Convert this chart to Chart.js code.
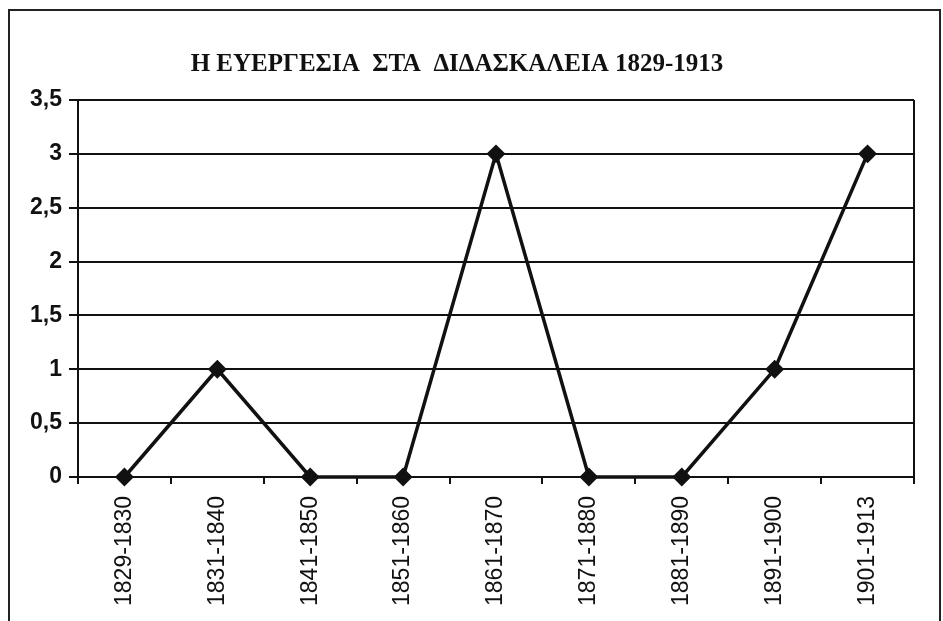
<!DOCTYPE html>
<html>
<head>
<meta charset="utf-8">
<script src="https://cdn.jsdelivr.net/npm/chart.js@4"></script>
<style>
  html, body { margin: 0; padding: 0; background: #fff; }
  #wrap { width: 943px; height: 621px; position: relative; }
</style>
</head>
<body>
<div id="wrap"><canvas id="chart"></canvas></div>
<script>
// data
const periods = ["1829-1830", "1831-1840", "1841-1850", "1851-1860", "1861-1870",
                 "1871-1880", "1881-1890", "1891-1900", "1901-1913"];
const counts = [0, 1, 0, 0, 3, 0, 0, 1, 3];
const yTicks = [0, 0.5, 1, 1.5, 2, 2.5, 3, 3.5];
const titleText = "Η ΕΥΕΡΓΕΣΙΑ  ΣΤΑ  ΔΙΔΑΣΚΑΛΕΙΑ 1829-1913";

// frame around the whole figure + right edge of plot box
const framePlugin = {
  id: "frame",
  beforeDraw(chart) {
    const c = chart.ctx;
    c.save();
    c.fillStyle = "#fff";
    c.fillRect(0, 0, chart.width, chart.height);
    c.strokeStyle = "#222";
    c.lineWidth = 2;
    c.strokeRect(9, 10, 931, 640);
    c.restore();
  },
  afterDraw(chart) {
    const a = chart.chartArea, c = chart.ctx;
    c.save();
    c.strokeStyle = "#111";
    c.lineWidth = 2;
    c.beginPath();
    c.moveTo(a.right, a.top);
    c.lineTo(a.right, a.bottom + 7);
    c.stroke();
    c.restore();
  }
};

new Chart(document.getElementById("chart"), {
  type: "line",
  data: {
    labels: periods,
    datasets: [{
      data: counts,
      borderColor: "#111",
      borderWidth: 3.5,
      tension: 0,
      pointStyle: "rectRot",
      pointRadius: 7,
      pointBackgroundColor: "#111",
      pointBorderColor: "#111",
      clip: false
    }]
  },
  options: {
    responsive: true,
    maintainAspectRatio: false,
    animation: false,
    layout: { padding: { left: 0, right: 29, top: 0, bottom: 0 } },
    plugins: {
      legend: { display: false },
      tooltip: { enabled: false },
      title: {
        display: true,
        text: titleText,
        color: "#111",
        font: { family: "'Liberation Serif', 'Times New Roman', serif", size: 25, weight: "bold" },
        padding: { top: 50, bottom: 20 }
      }
    },
    scales: {
      x: {
        offset: true,
        grid: { offset: true, drawOnChartArea: false, drawTicks: true, tickLength: 7, color: "#111", lineWidth: 2 },
        border: { color: "#111", width: 2 },
        ticks: {
          color: "#111",
          minRotation: 90,
          maxRotation: 90,
          padding: 12,
          font: { family: "'Liberation Sans', Arial, sans-serif", size: 23 }
        },
        afterFit(scale) { scale.height = 144; }
      },
      y: {
        min: 0,
        max: 3.5,
        afterBuildTicks(scale) { scale.ticks = yTicks.map(v => ({ value: v })); },
        grid: { color: "#111", lineWidth: 2, tickLength: 9 },
        border: { color: "#111", width: 2 },
        ticks: {
          color: "#111",
          padding: 7,
          font: { family: "'Liberation Sans', Arial, sans-serif", size: 23, weight: "bold" },
          callback: v => String(v).replace(".", ",")
        },
        afterFit(scale) { scale.width = 78; }
      }
    }
  },
  plugins: [framePlugin]
});
</script>
</body>
</html>
